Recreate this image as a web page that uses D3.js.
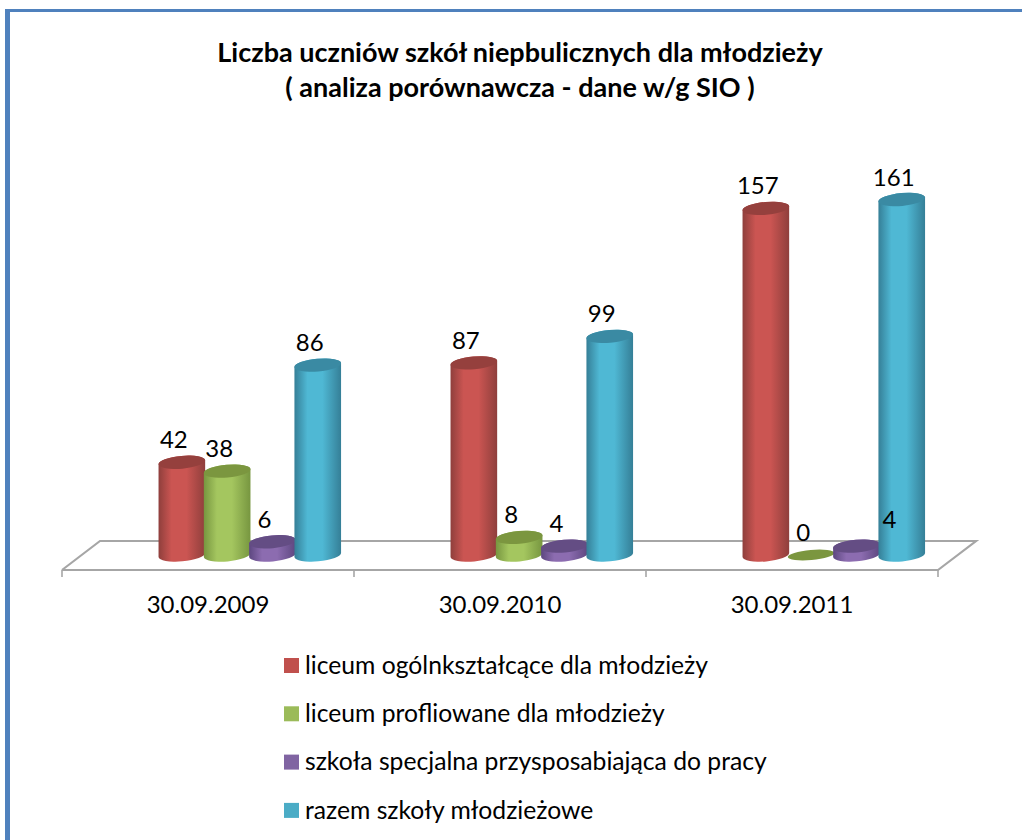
<!DOCTYPE html>
<html lang="pl"><head><meta charset="utf-8">
<style>html,body{margin:0;padding:0;background:#fff}svg{display:block}text{font-family:Lato,"Noto Sans",sans-serif;fill:#000}</style>
<script src="https://cdn.jsdelivr.net/npm/d3@7/dist/d3.min.js"></script>
</head><body><svg id="c" width="1022" height="840"></svg>
<script>
const categories = ["30.09.2009","30.09.2010","30.09.2011"];
const seriesNames = ["liceum ogólnkształcące dla młodzieży","liceum profliowane dla młodzieży","szkoła specjalna przysposabiająca do pracy","razem szkoły młodzieżowe"];
const liceumOgolne = [42,87,157];
const liceumProfil = [38,8,0];
const szkolaSpecjalna = [6,4,4];
const razem = [86,99,161];
const seriesValues = [liceumOgolne,liceumProfil,szkolaSpecjalna,razem];
const seriesColors = [
 {edge:"#8f3f3c",mid:"#cb5552",top:"#95403d",sw:"#c0504d"},
 {edge:"#779640",mid:"#a4c65f",top:"#7b963f",sw:"#9bbb59"},
 {edge:"#5d4780",mid:"#8c6cb0",top:"#644d84",sw:"#8064a2"},
 {edge:"#357f97",mid:"#4fb8d4",top:"#3a8aa3",sw:"#4bacc6"}];
const titleLines = ["Liczba uczniów szkół niepbulicznych dla młodzieży","( analiza porównawcza - dane w/g SIO )"];

const svg = d3.select("#c");
const defs = svg.append("defs");
seriesColors.forEach((c,i)=>{
  const g = defs.append("linearGradient").attr("id","g"+i);
  [[0,c.edge],[.28,c.mid],[.6,c.mid],[1,c.edge]].forEach(([o,col])=>g.append("stop").attr("offset",o).attr("stop-color",col));
});

// frame
svg.append("rect").attr("x",5).attr("y",9).attr("width",1017).attr("height",3).attr("fill","#4f81bd");
svg.append("rect").attr("x",5).attr("y",9).attr("width",5).attr("height",831).attr("fill","#4f81bd");

// title
svg.selectAll("text.title").data(titleLines).join("text").attr("class","title")
  .attr("x",520).attr("y",(d,i)=>62+i*35).attr("text-anchor","middle")
  .attr("font-size",27).attr("font-weight",700).text(d=>d);

// scales
const floorFront = 570, floorBack = 541, depthX = 38, baseline = 555;
const x0 = d3.scaleBand().domain(categories).range([62,938]);
const y = d3.scaleLinear().domain([0,161]).range([baseline,199.5]);
const barShift = 41.8;
const inner = d3.scaleBand().domain(d3.range(4)).range([0,x0.bandwidth()]).paddingInner(0).paddingOuter(1.223);

// floor
const floor = [[62,floorFront],[938,floorFront],[938+depthX,floorBack],[62+depthX,floorBack],[62,floorFront]];
svg.append("path").attr("d",d3.line()(floor)).attr("fill","#fff").attr("stroke","#a6a6a6").attr("stroke-width",2.2);
const axis = d3.axisBottom(x0).tickSize(0).tickPadding(0);
const tickEdges = [...categories.map(c=>x0(c)),938];
svg.selectAll("line.t").data(tickEdges).join("line").attr("class","t")
  .attr("x1",d=>d).attr("x2",d=>d).attr("y1",floorFront).attr("y2",floorFront+7)
  .attr("stroke","#a6a6a6").attr("stroke-width",1.6);
const axG = svg.append("g").attr("transform",`translate(0,${floorFront})`).call(axis);
axG.select(".domain").remove();
axG.selectAll("text").attr("y",43).attr("dy",0).attr("font-size",24).style("font-family","Lato,'Noto Sans',sans-serif").attr("fill","#000");

// cylinders
const rx = 23.4, ry = 6.4, tilt = 5*Math.PI/180, deg = -5;
const ex = rx*Math.cos(tilt), ey = rx*Math.sin(tilt);
function body(cx,top){
  return `M${cx-ex},${top+ey}L${cx-ex},${baseline+ey}A${rx},${ry} ${deg} 0 0 ${cx+ex},${baseline-ey}L${cx+ex},${top-ey}A${rx},${ry} ${deg} 0 0 ${cx-ex},${top+ey}Z`;
}
categories.forEach((cat,ci)=>{
  seriesValues.forEach((vals,si)=>{
    const v = vals[ci];
    const cx = x0(cat)+barShift+inner(si)+inner.bandwidth()/2;
    const top = y(v);
    const g = svg.append("g");
    if(v>0) g.append("path").attr("d",body(cx,top)).attr("fill",`url(#g${si})`);
    g.append("ellipse").attr("cx",cx).attr("cy",top).attr("rx",rx).attr("ry",v>0?ry:5)
      .attr("transform",`rotate(${deg} ${cx} ${top})`).attr("fill",seriesColors[si].top);
  });
});

// value labels
const labelFont = 24;
categories.forEach((cat,ci)=>{
  seriesValues.forEach((vals,si)=>{
    const v = vals[ci];
    const cx = x0(cat)+barShift+inner(si)+inner.bandwidth()/2;
    const shifted = ci===2 && si===2; // this label sits on the neighbouring column in the reference
    svg.append("text").attr("x",cx-8+(shifted?41:0)).attr("y",y(v)-14-(shifted?4:0)).attr("text-anchor","middle")
      .attr("font-size",labelFont).text(v);
  });
});

// legend
const legend = svg.selectAll("g.leg").data(seriesNames).join("g").attr("class","leg")
  .attr("transform",(d,i)=>`translate(284,${665.5+i*48.3})`);
legend.append("rect").attr("y",-7.5).attr("width",15).attr("height",15).attr("fill",(d,i)=>seriesColors[i].sw);
legend.append("text").attr("x",21).attr("y",8.2).attr("font-size",24.7).text(d=>d);
</script></body></html>
